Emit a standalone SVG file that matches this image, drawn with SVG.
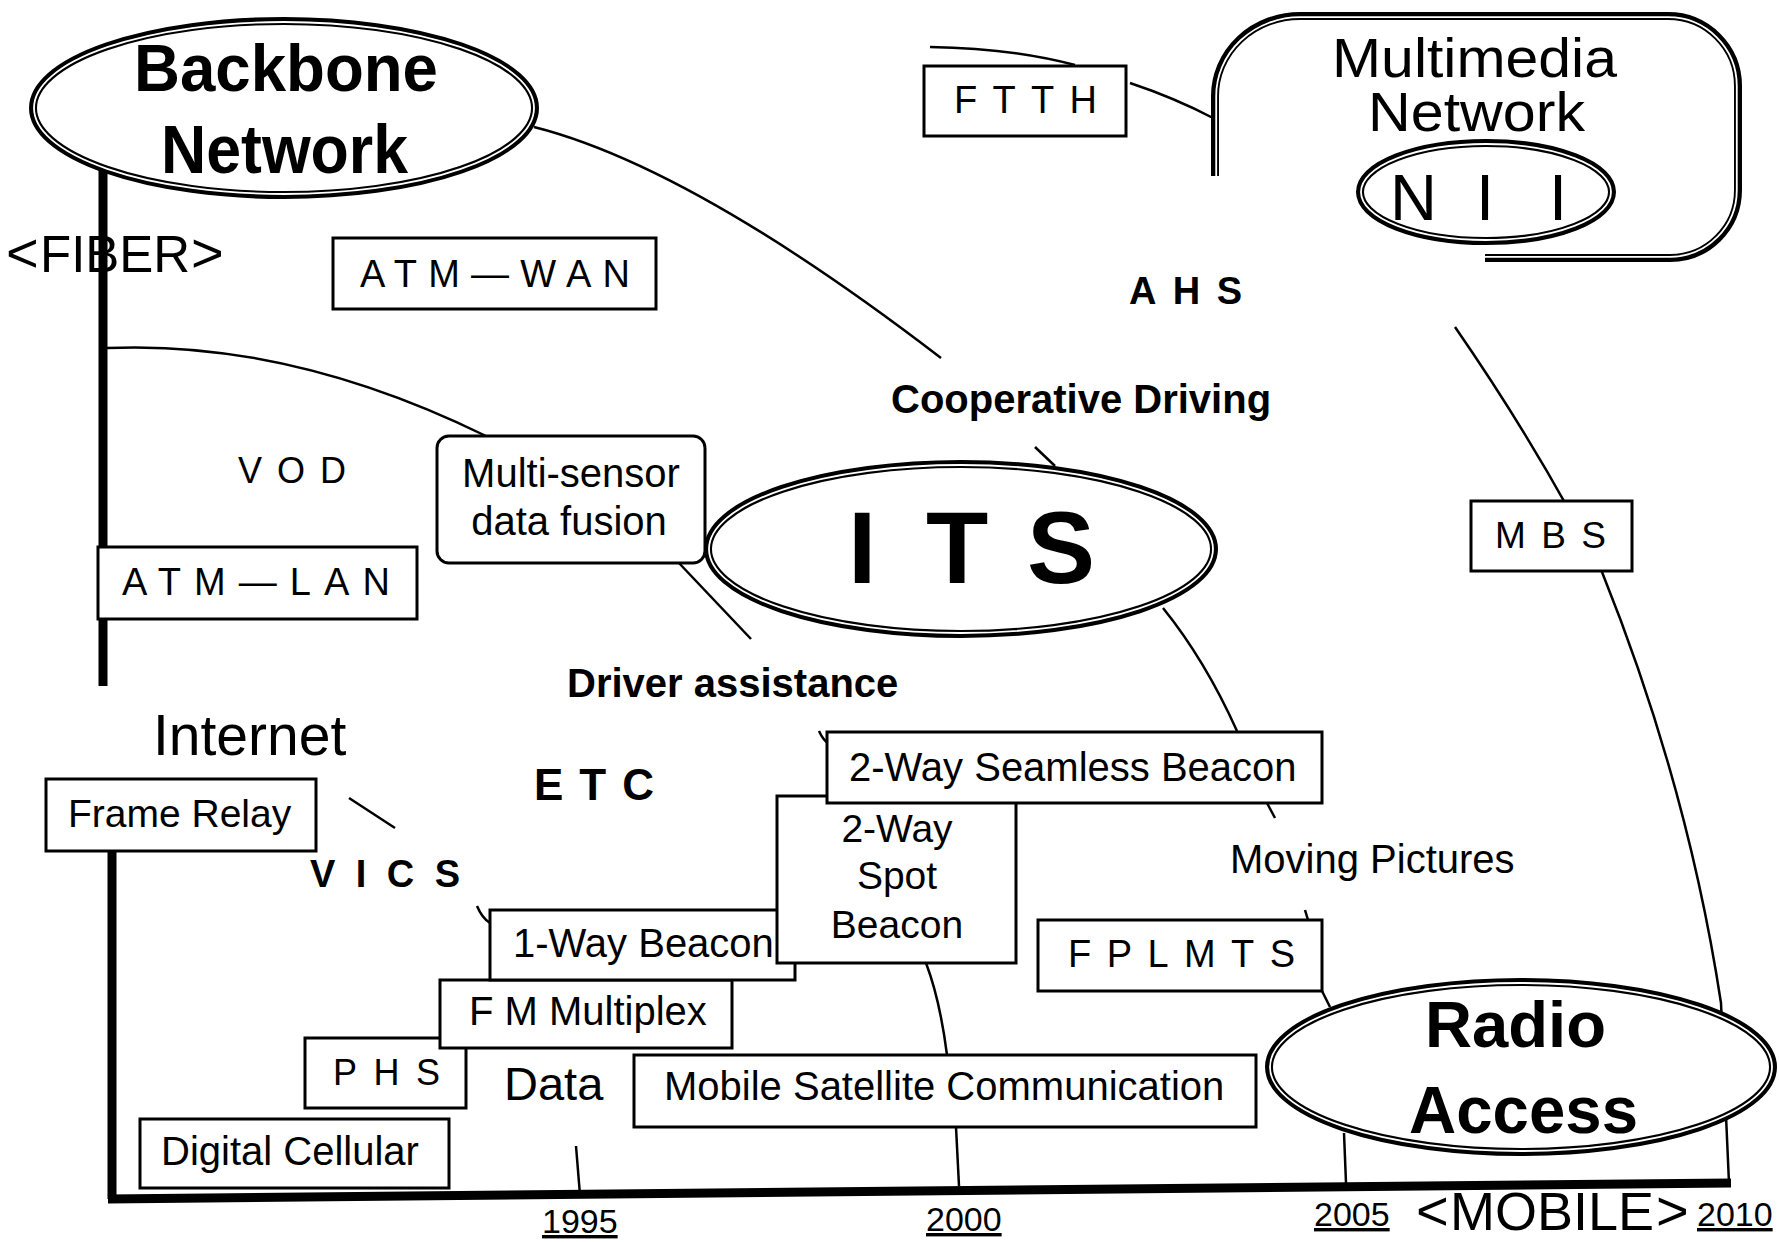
<svg xmlns="http://www.w3.org/2000/svg" width="1779" height="1242" viewBox="0 0 1779 1242">
<style>
.box{fill:#fff;stroke:#000;stroke-width:3}
.ln{fill:none;stroke:#000;stroke-width:2.5}
.axis{fill:none;stroke:#000;stroke-width:9}
.dbo{fill:#fff;stroke:#000;stroke-width:8}
.dbi{fill:none;stroke:#fff;stroke-width:1.8}
.t{font-family:"Liberation Sans",Arial,"Noto Sans CJK JP",sans-serif;fill:#000}
.b{font-weight:bold}
.u{text-decoration:underline}
</style>
<rect width="1779" height="1242" fill="#fff"/>
<g id="axes">
<path class="axis" d="M103,170 L103,686"/>
<path class="axis" d="M112,840 L112,1199"/>
<path class="axis" d="M108,1199 L1731,1183"/>
</g>
<g id="connectors">
<path class="ln" d="M534,127 Q692,167 941,358"/>
<path class="ln" d="M930,47 Q1010,48 1075,65"/>
<path class="ln" d="M1130,83 Q1175,98 1213,118"/>
<path class="ln" d="M107,348 Q290,340 486,436"/>
<path class="ln" d="M678,562 L751,639"/>
<path class="ln" d="M1035,447 L1055,466"/>
<path class="ln" d="M1163,608 Q1205,660 1237,731"/>
<path class="ln" d="M1267,803 L1275,818"/>
<path class="ln" d="M1305,910 L1308,920"/>
<path class="ln" d="M1322,991 L1330,1007"/>
<path class="ln" d="M1344,1133 L1346,1183"/>
<path class="ln" d="M1455,327 Q1540,450 1602,572 Q1688,786 1721,1003 L1729,1183"/>
<path class="ln" d="M926,963 Q940,1000 947,1055"/>
<path class="ln" d="M956,1127 L959,1186"/>
<path class="ln" d="M576,1146 L580,1195"/>
<path class="ln" d="M349,798 L395,828"/>
<path class="ln" d="M477,906 Q482,918 490,923"/>
<path class="ln" d="M819,731 Q823,740 829,744"/>
</g>
<g id="backbone">
<ellipse class="dbo" cx="284" cy="108" rx="251" ry="87"/>
<ellipse class="dbi" cx="284" cy="108" rx="250" ry="86"/>
<text class="t b" x="134" y="91" font-size="66" textLength="304" lengthAdjust="spacingAndGlyphs">Backbone</text>
<text class="t b" x="161" y="173" font-size="68" textLength="247" lengthAdjust="spacingAndGlyphs">Network</text>
</g>
<g id="fiber-label"><text class="t" y="272" font-size="51"><tspan x="6" font-size="56">&lt;</tspan><tspan x="40">FIBER</tspan><tspan x="191" font-size="56">&gt;</tspan></text></g>
<g id="multimedia">
<path class="dbo" style="fill:none" d="M1215,176 L1215,96 A85,80 0 0 1 1300,16 L1668,16 A70,70 0 0 1 1738,86 L1738,190 A68,68 0 0 1 1670,258 L1485,258"/>
<path class="dbi" d="M1216.2,176 L1216.2,96 A83.8,78.8 0 0 1 1300,17.2 L1668,17.2 A68.8,68.8 0 0 1 1736.8,86 L1736.8,190 A66.8,66.8 0 0 1 1670,256.8 L1485,256.8"/>
<text class="t" x="1332" y="77" font-size="55" textLength="285" lengthAdjust="spacingAndGlyphs">Multimedia</text>
<text class="t" x="1368" y="131" font-size="56" textLength="217" lengthAdjust="spacingAndGlyphs">Network</text>
</g>
<g id="nii">
<ellipse class="dbo" cx="1486" cy="192" rx="126" ry="49"/>
<ellipse class="dbi" cx="1486" cy="192" rx="125" ry="48"/>
<text class="t" x="1390 1438 1476 1520 1549" y="220" font-size="65">N I I</text>
</g>
<g id="ftth"><rect class="box" x="924" y="66" width="202" height="70"/><text class="t" x="954" y="113" font-size="38" textLength="143" lengthAdjust="spacing">FTTH</text></g>
<g id="atm-wan"><rect class="box" x="333" y="238" width="323" height="71"/><text class="t" x="360" y="287" font-size="38" textLength="270" lengthAdjust="spacing">ATM—WAN</text></g>
<g id="ahs"><text class="t b" x="1129" y="304" font-size="38" textLength="113" lengthAdjust="spacing">AHS</text></g>
<g id="cooperative"><text class="t b" x="891" y="413" font-size="40">Cooperative Driving</text></g>
<g id="vod"><text class="t" x="238" y="483" font-size="36" textLength="108" lengthAdjust="spacing">VOD</text></g>
<g id="atm-lan"><rect class="box" x="98" y="547" width="319" height="72"/><text class="t" x="122" y="595" font-size="38" textLength="268" lengthAdjust="spacing">ATM—LAN</text></g>
<g id="multisensor">
<rect class="box" x="437" y="436" width="268" height="127" rx="12"/>
<text class="t" x="571" y="487" font-size="40" text-anchor="middle">Multi-sensor</text>
<text class="t" x="569" y="535" font-size="40" text-anchor="middle">data fusion</text>
</g>
<g id="its">
<ellipse class="dbo" cx="961" cy="549" rx="253" ry="85"/>
<ellipse class="dbi" cx="961" cy="549" rx="252" ry="84"/>
<text class="t b" x="848 890 926 985 1027" y="583" font-size="102">I T S</text>
</g>
<g id="mbs"><rect class="box" x="1471" y="501" width="161" height="70"/><text class="t" x="1495" y="548" font-size="37" textLength="111" lengthAdjust="spacing">MBS</text></g>
<g id="driver"><text class="t b" x="567" y="697" font-size="40">Driver assistance</text></g>
<g id="internet"><text class="t" x="153" y="755" font-size="57">Internet</text></g>
<g id="frame-relay"><rect class="box" x="46" y="779" width="270" height="72"/><text class="t" x="68" y="827" font-size="39">Frame Relay</text></g>
<g id="etc"><text class="t b" x="534" y="800" font-size="44" textLength="120" lengthAdjust="spacing">ETC</text></g>
<g id="vics"><text class="t b" x="310" y="887" font-size="38" textLength="150" lengthAdjust="spacing">VICS</text></g>
<g id="moving"><text class="t" x="1230" y="873" font-size="40">Moving Pictures</text></g>
<g id="digital-cellular"><rect class="box" x="140" y="1119" width="309" height="69"/><text class="t" x="161" y="1165" font-size="40">Digital Cellular</text></g>
<g id="phs"><rect class="box" x="305" y="1038" width="161" height="70"/><text class="t" x="333" y="1085" font-size="36" textLength="107" lengthAdjust="spacing">PHS</text></g>
<g id="fm"><rect class="box" x="440" y="980" width="292" height="68"/><text class="t" x="469" y="1025" font-size="40">F M Multiplex</text></g>
<g id="one-way"><rect class="box" x="490" y="910" width="305" height="70"/><text class="t" x="513" y="957" font-size="40">1-Way Beacon</text></g>
<g id="spot">
<rect class="box" x="777" y="796" width="239" height="167"/>
<text class="t" x="897" y="842" font-size="39" text-anchor="middle">2-Way</text>
<text class="t" x="897" y="889" font-size="39" text-anchor="middle">Spot</text>
<text class="t" x="897" y="938" font-size="39" text-anchor="middle">Beacon</text>
</g>
<g id="seamless"><rect class="box" x="827" y="732" width="495" height="71"/><text class="t" x="849" y="781" font-size="40">2-Way Seamless Beacon</text></g>
<g id="data"><text class="t" x="504" y="1100" font-size="47">Data</text></g>
<g id="mobile-sat"><rect class="box" x="634" y="1055" width="622" height="72"/><text class="t" x="664" y="1100" font-size="40">Mobile Satellite Communication</text></g>
<g id="fplmts"><rect class="box" x="1038" y="920" width="284" height="71"/><text class="t" x="1068" y="967" font-size="38" textLength="227" lengthAdjust="spacing">FPLMTS</text></g>
<g id="radio">
<ellipse class="dbo" cx="1521" cy="1067" rx="252" ry="85"/>
<ellipse class="dbi" cx="1521" cy="1067" rx="251" ry="84"/>
<text class="t b" x="1425" y="1047" font-size="64" textLength="181" lengthAdjust="spacingAndGlyphs">Radio</text>
<text class="t b" x="1409" y="1133" font-size="66" textLength="229" lengthAdjust="spacingAndGlyphs">Access</text>
</g>
<g id="years">
<text class="t u" x="542" y="1233" font-size="34">1995</text>
<text class="t u" x="926" y="1231" font-size="34">2000</text>
<text class="t u" x="1314" y="1226" font-size="34">2005</text>
<text class="t u" x="1697" y="1226" font-size="34">2010</text>
</g>
<g id="mobile-label"><text class="t" y="1230" font-size="54"><tspan x="1416" font-size="56">&lt;</tspan><tspan x="1450">MOBILE</tspan><tspan x="1656" font-size="56">&gt;</tspan></text></g>
</svg>
